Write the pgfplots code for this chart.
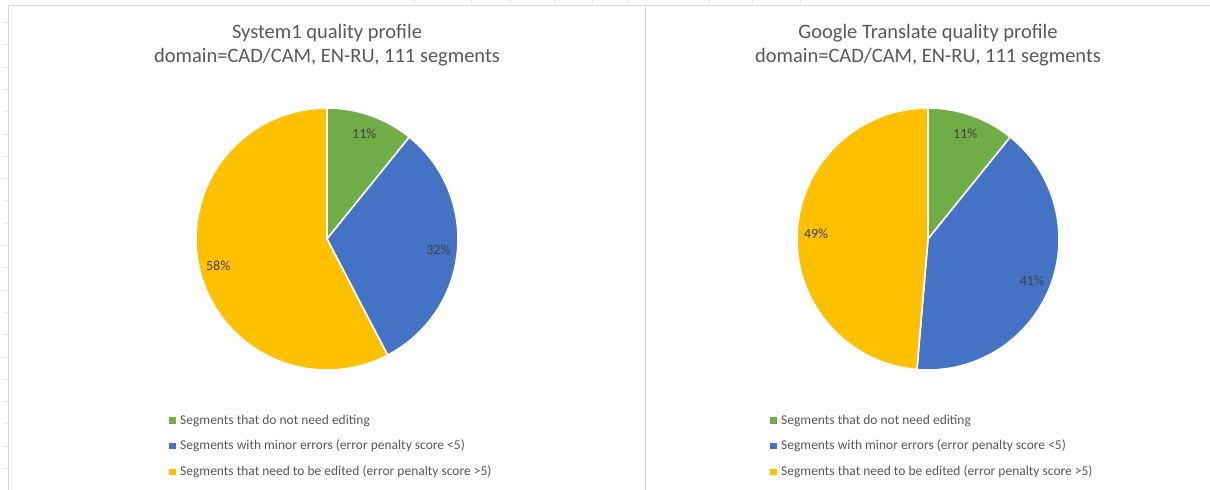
\documentclass[border=0pt]{standalone}
\usepackage{pgfplots}
\pgfplotsset{compat=1.18}
\usepackage{pgfplotstable}
\usepackage{fontspec}
\setmainfont{Carlito}
\definecolor{cgreen}{HTML}{70AD47}
\definecolor{cblue}{HTML}{4472C4}
\definecolor{cyellow}{HTML}{FFC000}
\definecolor{ctitle}{HTML}{595959}
\definecolor{clabel}{HTML}{404040}
\definecolor{cframe}{HTML}{D9D9D9}
\definecolor{cgrid}{HTML}{E8E8E8}

% segment counts (111 segments per system)
\pgfplotstableread{
count color
12 cgreen
35 cblue
64 cyellow
}\sysone
\pgfplotstableread{
count color
12 cgreen
45 cblue
54 cyellow
}\google

\tikzset{pielabel/.style={font=\fontsize{14bp}{16bp}\selectfont, text=clabel, inner sep=0pt},
  titlestyle/.style={font=\fontsize{20.5bp}{23.5bp}\selectfont, text=ctitle, align=center}}

\newcommand\drawpie[3]{% table, cx, cy
  \pgfplotstablegetrowsof{#1}\pgfmathtruncatemacro\nrows{\pgfplotsretval-1}%
  \def\total{0}%
  \pgfplotsforeachungrouped \i in {0,...,\nrows}{%
    \pgfplotstablegetelem{\i}{count}\of{#1}%
    \pgfmathsetmacro\total{\total+\pgfplotsretval}}%
  \def\cum{0}%
  \pgfplotsforeachungrouped \i in {0,...,\nrows}{%
    \pgfplotstablegetelem{\i}{count}\of{#1}\let\val\pgfplotsretval
    \pgfplotstablegetelem{\i}{color}\of{#1}\let\col\pgfplotsretval
    \pgfmathsetmacro\fa{\cum/\total}%
    \pgfmathsetmacro\fb{(\cum+\val)/\total}%
    \pgfmathsetmacro\sa{90-360*\fa}%
    \pgfmathsetmacro\ea{90-360*\fb}%
    \pgfmathsetmacro\ma{(\sa+\ea)/2}%
    \pgfmathtruncatemacro\pct{round(100*(\fb-\fa))}%
    \edef\temp{%
      \noexpand\fill[\col, draw=white, line width=1.6bp, line join=round] (axis cs:#2,#3) -- ++(\sa:131bp) arc[start angle=\sa, end angle=\ea, radius=131bp] -- cycle;%
      \noexpand\path (axis cs:#2,#3) ++(\ma:112bp) node[pielabel] {\pct\noexpand\%};%
    }\temp
    \pgfmathsetmacro\cum{\cum+\val}%
  }%
}

\pgfplotsset{
  piepanel/.style={
    hide axis, scale only axis, y dir=reverse,
    x=1bp, y=1bp, ymin=0, ymax=490, clip=false,
    legend image code/.code={\fill[##1] (0bp,-2.7bp) rectangle (5.4bp,2.7bp);},
    legend cell align=left,
    legend style={draw=none, fill=none, anchor=west,
      font=\fontsize{13.5bp}{16bp}\selectfont, text=ctitle,
      row sep=14.5bp, inner sep=0pt, nodes={inner ysep=0bp, inner xsep=2.2bp},
      /tikz/every odd column/.style={column sep=3bp}},
  },
}

\begin{document}
\begin{tikzpicture}
\path[use as bounding box, fill=white] (0,0) rectangle (1210bp,490bp);
% spreadsheet background
\foreach \k in {0,...,21} {\draw[cgrid, line width=0.6bp] (3bp,{(490-22.4-22.3*\k)*1bp}) -- (8bp,{(490-22.4-22.3*\k)*1bp});}
\foreach \xx in {414,471,510,554,592,627,709,752,800} {\draw[cgrid, line width=0.6bp] (\xx bp,490bp) -- (\xx bp,485bp);}
\draw[cframe, line width=0.8bp] (8.5bp,0) -- (8.5bp,485bp) -- (1210bp,485bp);
\draw[cframe, line width=0.8bp] (645bp,0) -- (645bp,485bp);

\begin{axis}[piepanel, at={(0,0)}, anchor=south west, xmin=0, xmax=645,
  legend style={at={(axis cs:169,446)}}]
  \node[titlestyle] at (axis cs:327,45) {System1 quality profile\\domain=CAD/CAM, EN-RU, 111 segments};
  \drawpie{\sysone}{327}{239}
  \addlegendimage{cgreen}\addlegendentry{Segments that do not need editing}
  \addlegendimage{cblue}\addlegendentry{Segments with minor errors (error penalty score <5)}
  \addlegendimage{cyellow}\addlegendentry{Segments that need to be edited (error penalty score >5)}
\end{axis}

\begin{axis}[piepanel, at={(645bp,0)}, anchor=south west, xmin=645, xmax=1210,
  legend style={at={(axis cs:770,446)}}]
  \node[titlestyle] at (axis cs:928,45) {Google Translate quality profile\\domain=CAD/CAM, EN-RU, 111 segments};
  \drawpie{\google}{928}{239}
  \addlegendimage{cgreen}\addlegendentry{Segments that do not need editing}
  \addlegendimage{cblue}\addlegendentry{Segments with minor errors (error penalty score <5)}
  \addlegendimage{cyellow}\addlegendentry{Segments that need to be edited (error penalty score >5)}
\end{axis}
\end{tikzpicture}
\end{document}
